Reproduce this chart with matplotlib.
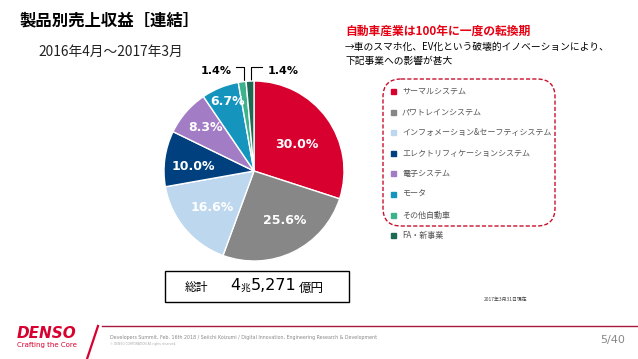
import numpy as np
import matplotlib.pyplot as plt
from matplotlib.patches import FancyBboxPatch, Rectangle

plt.rcParams['font.family'] = ['Noto Sans CJK JP', 'DejaVu Sans']

segments = ['サーマルシステム', 'パワトレインシステム', 'インフォメーション&セーフティシステム',
            'エレクトリフィケーションシステム', '電子システム', 'モータ', 'その他自動車', 'FA・新事業']
shares = [30.0, 25.6, 16.6, 10.0, 8.3, 6.7, 1.4, 1.4]
colors = ['#D7002F', '#878787', '#BDD7EE', '#00407F', '#A27CC4', '#1595BE', '#3CB38C', '#1D6A52']

W, H = 638, 359
fig = plt.figure(figsize=(6.38, 3.59), dpi=100)

# overlay axes in pixel coordinates
bg = fig.add_axes([0, 0, 1, 1])
bg.set_xlim(0, W)
bg.set_ylim(H, 0)
bg.axis('off')

# pie
cx, cy, r = 254, 171, 90
pax = fig.add_axes([(cx - r) / W, (H - cy - r) / H, 2 * r / W, 2 * r / H])
wedges, _ = pax.pie(shares, colors=colors, startangle=90, counterclock=False,
                    wedgeprops=dict(edgecolor='white', linewidth=1))
pax.set_aspect('equal')
pax.set_xlim(-1, 1)
pax.set_ylim(-1, 1)

# label radius and angular nudge (deg) for the inner labels
label_r = [0.565, 0.65, 0.62, 0.68, 0.73, 0.82]
label_da = [-4, 6, 1.4, 3.6, -1, -1.5]
cum = 0
for i, s in enumerate(shares):
    mid = 90 - (cum + s / 2) * 3.6
    cum += s
    if i < len(label_r):
        a = np.deg2rad(mid + label_da[i])
        pax.text(label_r[i] * np.cos(a), label_r[i] * np.sin(a), f'{s:.1f}%',
                 ha='center', va='center', color='white', fontsize=9,
                 fontweight='bold', family='DejaVu Sans')

# small slices with leader lines
bg.plot([236, 244, 244], [67, 67, 83], color='black', lw=0.8)
bg.plot([262, 251, 251], [67, 67, 83], color='black', lw=0.8)
bg.text(232, 71, f'{shares[6]:.1f}%', ha='right', va='center', fontsize=8,
        fontweight='bold', family='DejaVu Sans')
bg.text(268, 71, f'{shares[7]:.1f}%', ha='left', va='center', fontsize=8,
        fontweight='bold', family='DejaVu Sans')

# titles
bg.text(19, 20, '製品別売上収益［連結］', fontsize=11.8, fontweight='bold', va='center')
bg.text(38, 52, '2016年4月～2017年3月', fontsize=9.9, va='center', color='#222222')

bg.text(345, 31, '自動車産業は100年に一度の転換期', fontsize=8.5, fontweight='bold',
        color='#E60012', va='center')
bg.text(345, 47, '→車のスマホ化、EV化という破壊的イノベーションにより、', fontsize=7, va='center')
bg.text(345, 61, '下記事業への影響が甚大', fontsize=7, va='center')

# legend
box = FancyBboxPatch((383, 79), 172, 147, boxstyle='round,pad=0,rounding_size=18',
                     fill=False, edgecolor='#C8102E', lw=1, linestyle=(0, (3, 1.5)))
bg.add_patch(box)
for i, (name, c) in enumerate(zip(segments, colors)):
    y = 91.5 + i * 20.6
    bg.add_patch(Rectangle((391, y - 2.5), 5, 5, color=c))
    bg.text(402, y, name, fontsize=5.8, color='#555555', va='center')

# total
bg.add_patch(Rectangle((165, 271), 184, 31, fill=False, edgecolor='black', lw=1))
bg.text(185, 287, '総計', fontsize=8.5, va='center')
bg.text(230, 286, '4', fontsize=11.5, va='center', family='DejaVu Sans')
bg.text(241, 288, '兆', fontsize=7, va='center')
bg.text(251, 286, '5,271', fontsize=11.5, va='center', family='DejaVu Sans')
bg.text(299, 288, '億円', fontsize=9, va='center')

bg.text(484, 299, '2017年3月31日現在', fontsize=3.5, color='#444444', va='center')

# footer
bg.plot([102, W], [326, 326], color='#A6193C', lw=1)
bg.plot([98, 87], [326, 359], color='#D7002F', lw=1.6)
bg.text(17, 333, 'DENSO', fontsize=11, fontweight='bold', style='italic', color='#D7002F',
        va='center', family='DejaVu Sans')
bg.text(17, 345, 'Crafting the Core', fontsize=5, color='#D7002F', va='center',
        family='DejaVu Sans')
bg.text(110, 338, 'Developers Summit, Feb. 16th 2018 / Seiichi Koizumi / Digital Innovation, '
        'Engineering Research & Development', fontsize=3.4, color='#888888', va='center',
        family='DejaVu Sans')
bg.text(110, 344, '© DENSO CORPORATION All rights reserved.', fontsize=2.2, color='#AAAAAA',
        va='center', family='DejaVu Sans')
bg.text(625, 340, '5/40', fontsize=8, color='#888888', ha='right', va='center',
        family='DejaVu Sans')

fig.savefig('out.png', dpi=100)
